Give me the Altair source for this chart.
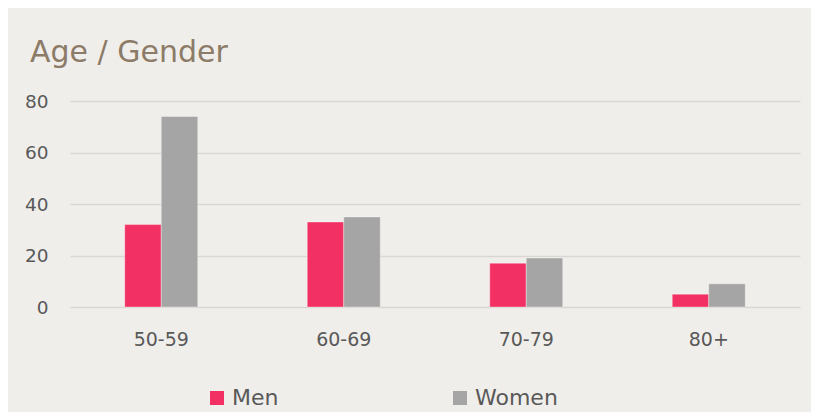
import altair as alt
import pandas as pd

categories = ["50-59", "60-69", "70-79", "80+"]
men = [32, 33, 17, 5]
women = [74, 35, 19, 9]
series = ["Men", "Women"]
colors = ["#f23063", "#a5a5a5"]
y_ticks = [0, 20, 40, 60, 80]

rows = []
for c, m, w in zip(categories, men, women):
    rows.append({"age": c, "gender": "Men", "value": m})
    rows.append({"age": c, "gender": "Women", "value": w})
df = pd.DataFrame(rows)

FONT = "DejaVu Sans"

chart = alt.Chart(df).mark_bar(
    stroke="#ffffff", strokeOpacity=0.35, strokeWidth=1
).encode(
    x=alt.X("age:N", sort=categories, title=None,
            scale=alt.Scale(paddingInner=0.6, paddingOuter=0.3),
            axis=alt.Axis(labelAngle=0, ticks=False, domain=False, grid=False,
                          labelPadding=23, labelFontSize=19, labelColor="#595959",
                          labelFont=FONT)),
    xOffset=alt.XOffset("gender:N", sort=series,
                        scale=alt.Scale(paddingInner=0, paddingOuter=0)),
    y=alt.Y("value:Q", title=None,
            scale=alt.Scale(domain=[0, 80], nice=False),
            axis=alt.Axis(values=y_ticks, ticks=False, domain=False, grid=True,
                          gridColor="#d9d7d4", gridWidth=1.6,
                          labelPadding=22, labelFontSize=18.5, labelColor="#595959",
                          labelFont=FONT)),
    color=alt.Color("gender:N", sort=series, title=None,
                    scale=alt.Scale(domain=series, range=colors),
                    legend=alt.Legend(orient="none", direction="horizontal",
                                      legendX=136, legendY=286,
                                      symbolType="square", symbolSize=196,
                                      symbolStrokeWidth=0, labelOffset=4,
                                      columnPadding=170, padding=0,
                                      labelFontSize=22, labelColor="#595959",
                                      labelFont=FONT)),
).properties(
    width=730,
    height=206,
    title=alt.TitleParams("Age / Gender", anchor="start", frame="group",
                          dx=-40, dy=-20, fontSize=30, fontWeight="normal",
                          color="#8c7b67", font=FONT),
    background="#f0eeeb",
    autosize=alt.AutoSizeParams(type="none"),
    padding={"left": 62, "top": 93, "right": 11, "bottom": 105},
).configure_view(stroke=None)

chart.save("out.html", embed_options={"renderer": "svg", "actions": False})
